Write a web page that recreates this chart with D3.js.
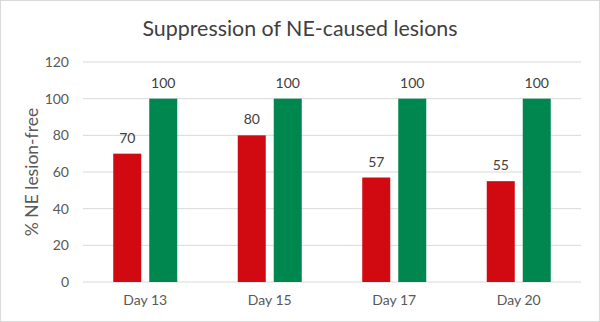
<!DOCTYPE html>
<html><head><meta charset="utf-8">
<script src="https://cdn.jsdelivr.net/npm/d3@7"></script>
<style>body{margin:0;background:#fff}svg{display:block}text{font-family:Lato,"Open Sans",sans-serif;fill:#404040}</style>
</head><body><svg id="c" width="600" height="322"></svg>
<script>
const categories = ["Day 13","Day 15","Day 17","Day 20"];
const seriesRed = [70,80,57,55];
const seriesGreen = [100,100,100,100];
const yTicks = [0,20,40,60,80,100,120];
const title = "Suppression of NE-caused lesions";
const yTitle = "% NE lesion-free";

const svg = d3.select("#c");
const W=600,H=322;
const m={l:83,r:19,t:62,b:40};
svg.append("rect").attr("x",0.5).attr("y",0.5).attr("width",W-1).attr("height",H-1).attr("fill","#fff").attr("stroke","#d9d9d9");

const x = d3.scaleBand().domain(categories).range([m.l,W-m.r]);
const y = d3.scaleLinear().domain([0,120]).range([H-m.b,m.t]);

const g=svg.append("g");
g.selectAll("line.grid").data(yTicks).join("line").attr("class","grid")
 .attr("x1",m.l).attr("x2",W-m.r).attr("y1",d=>y(d)).attr("y2",d=>y(d))
 .attr("stroke","#d9d9d9").attr("stroke-width",1);

const yAxis = svg.append("g").attr("transform",`translate(${m.l},0)`).call(d3.axisLeft(y).tickValues(yTicks).tickSize(0).tickPadding(14));
yAxis.select(".domain").remove();
yAxis.selectAll("text").attr("font-size",14).style("fill","#595959");

const xAxis = svg.append("g").attr("transform",`translate(0,${H-m.b})`).call(d3.axisBottom(x).tickSize(0).tickPadding(13));
xAxis.select(".domain").remove();
xAxis.selectAll("text").attr("font-size",14).style("fill","#595959");

const bw=28, gap=8;
const series=[{vals:seriesRed,color:"#d10a11",off:-(bw+gap/2)},{vals:seriesGreen,color:"#00874f",off:gap/2}];
series.forEach(s=>{
  const gg=svg.append("g");
  gg.selectAll("rect").data(categories).join("rect")
   .attr("x",(d)=>x(d)+x.bandwidth()/2+s.off).attr("width",bw)
   .attr("y",(d,i)=>y(s.vals[i])).attr("height",(d,i)=>y(0)-y(s.vals[i]))
   .attr("fill",s.color);
  gg.selectAll("text").data(categories).join("text")
   .attr("x",(d)=>x(d)+x.bandwidth()/2+s.off+bw/2)
   .attr("y",(d,i)=>y(s.vals[i])-11).attr("text-anchor","middle").attr("font-size",14)
   .text((d,i)=>s.vals[i]);
});

svg.append("text").attr("x",300).attr("y",36).attr("text-anchor","middle").attr("font-size",21.4).text(title);
svg.append("text").attr("transform",`translate(38,${(y(0)+y(120))/2}) rotate(-90)`).attr("text-anchor","middle").attr("font-size",17.5).style("fill","#595959").text(yTitle);
</script></body></html>
